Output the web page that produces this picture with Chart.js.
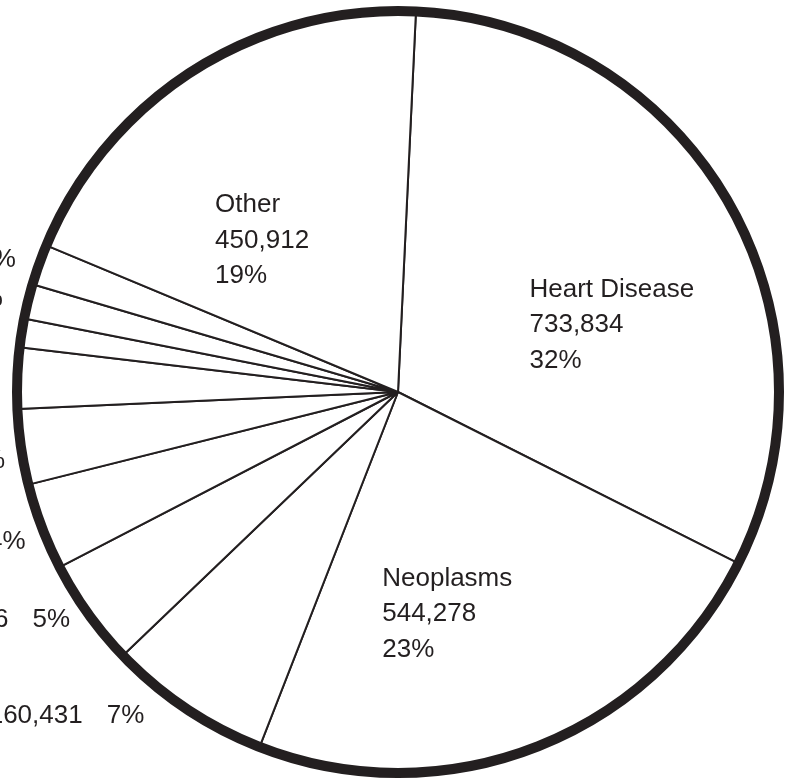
<!DOCTYPE html>
<html>
<head>
<meta charset="utf-8">
<script src="https://cdn.jsdelivr.net/npm/chart.js@4"></script>
<style>
  html, body { margin: 0; padding: 0; background: #fff; overflow: hidden; }
  canvas { display: block; }
</style>
</head>
<body>
<canvas id="deathsPie" width="794" height="778"></canvas>
<script>
// causes of death, clockwise from the top
const causes = ['Heart Disease', 'Neoplasms', 'Cerebrovascular Disease', 'Pulmonary Disease',
  'Accidents', 'Pneumonia & Influenza', 'Diabetes', 'HIV', 'Suicide', 'Liver Disease', 'Other'];
const deaths = [733834, 544278, 160431, 105556, 85602, 74015, 59856, 28319, 34111, 39904, 450912];

const ink = '#231f20';
const total = deaths.reduce((a, b) => a + b, 0);

// which labels sit inside their slice, and small text nudges
const inside = [true, true, false, false, false, false, false, false, false, false, true];
const nudge = [[-33, 1], [-84, 16], [-42, 14], [-18, 13], [-16, 22], [-16, 21],
  [-25, 14], [-30, 14], [-25, 5], [-23, 2], [-81, -19]];

const pieLabels = {
  id: 'pieLabels',
  afterDatasetsDraw(chart) {
    const ctx = chart.ctx;
    const arcs = chart.getDatasetMeta(0).data;
    const { x, y, outerRadius } = arcs[0];
    ctx.save();
    // heavy outer ring
    ctx.lineWidth = 10;
    ctx.strokeStyle = ink;
    ctx.beginPath();
    ctx.arc(x, y, outerRadius, 0, Math.PI * 2);
    ctx.stroke();

    ctx.fillStyle = ink;
    ctx.font = '26px "Liberation Sans", Arial, sans-serif';
    arcs.forEach((arc, i) => {
      const pct = Math.round(deaths[i] / total * 100) + '%';
      const num = deaths[i].toLocaleString('en-US');
      const [dx, dy] = nudge[i];
      if (inside[i]) {
        const p = arc.tooltipPosition();
        ctx.textAlign = 'left';
        [causes[i], num, pct].forEach((t, k) => ctx.fillText(t, p.x + dx, p.y + dy + k * 35.5));
      } else {
        const mid = (arc.startAngle + arc.endAngle) / 2;
        const px = x + Math.cos(mid) * outerRadius;
        const py = y + Math.sin(mid) * outerRadius;
        ctx.textAlign = 'right';
        ctx.fillText(pct, px + dx, py + dy);
        const w = ctx.measureText(pct).width;
        ctx.fillText(causes[i] + ' ' + num, px + dx - w - 24, py + dy);
      }
    });
    ctx.restore();
  }
};

new Chart(document.getElementById('deathsPie'), {
  type: 'pie',
  data: {
    labels: causes,
    datasets: [{
      data: deaths,
      backgroundColor: '#ffffff',
      borderColor: ink,
      borderWidth: 2
    }]
  },
  options: {
    responsive: false,
    animation: false,
    rotation: 2.7,
    radius: 381,
    layout: { padding: { left: 2, top: 6, right: 0, bottom: 0 } },
    plugins: {
      legend: { display: false },
      tooltip: { enabled: false }
    }
  },
  plugins: [pieLabels]
});
</script>
</body>
</html>
